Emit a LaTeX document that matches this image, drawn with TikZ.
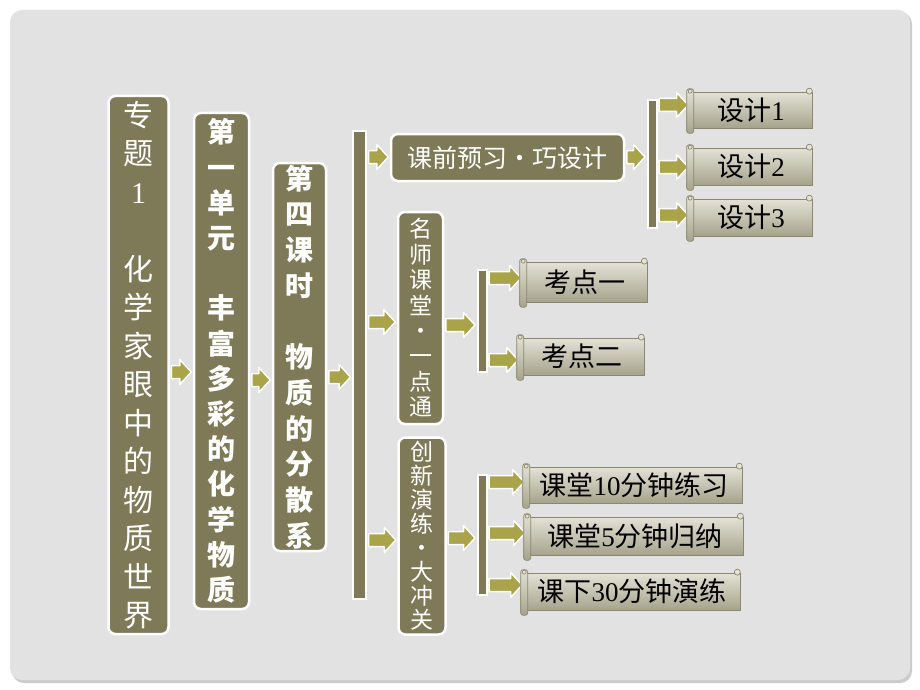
\documentclass[tikz,border=0pt]{standalone}
\usepackage{fontspec}
\setmainfont{Liberation Serif}
\newfontfamily\cjk{Noto Sans CJK SC}
\usetikzlibrary{calc}

\definecolor{bggray}{HTML}{E2E2E2}
\definecolor{bgshadow}{HTML}{CCCCCC}
\definecolor{boxolive}{HTML}{7E7956}
\definecolor{arrowolive}{HTML}{A9A449}
\definecolor{scrolltop}{HTML}{E4E2D6}
\definecolor{scrollmid}{HTML}{D3D1C1}
\definecolor{scrollbot}{HTML}{A6A38C}
\definecolor{scrollline}{HTML}{8A876E}

% digits in the serif face
\newcommand\latn[1]{{\rmfamily #1}}

% block arrow from node #1 to node #2 at height #3
\newcommand\blockarrow[3]{%
  \coordinate (ba-s) at (#1.east |- 0,#3);
  \coordinate (ba-e) at (#2.west |- 0,#3);
  \filldraw[arrowbody] ($(ba-s)+(1.5,6.5)$) -- ($(ba-e)+(-13,6.5)$) -- ($(ba-e)+(-13,12.5)$)
    -- ($(ba-e)+(-1.5,0)$) -- ($(ba-e)+(-13,-12.5)$) -- ($(ba-e)+(-13,-6.5)$) -- ($(ba-s)+(1.5,-6.5)$) -- cycle;}

\begin{document}
\begin{tikzpicture}[x=1pt,y=-1pt,
  olivebox/.style={draw=white, line width=2.5pt, fill=boxolive, rounded corners=7pt, text=white, inner sep=0pt, align=center},
  olivebar/.style={draw=white, line width=2pt, fill=boxolive, inner sep=0pt},
  arrowbody/.style={fill=arrowolive, draw=white, line width=1.5pt, line join=round},
  scroll/.style={draw=scrollline, line width=0.7pt, top color=scrolltop, middle color=scrollmid, bottom color=scrollbot, inner sep=0pt, text=black, font=\cjk\fontsize{27}{30}\selectfont},
  rollline/.style={draw=scrollline, line width=0.7pt}]

\useasboundingbox (0,0) rectangle (920,690);
\fill[white] (0,0) rectangle (920,690);
\fill[bgshadow, rounded corners=12pt] (12,12) rectangle (912,683);
\fill[bggray, rounded corners=12pt] (10,10) rectangle (910,680);

% left column
\node[olivebox, minimum width=60pt, minimum height=538pt, font=\cjk\fontsize{30}{38.5}\selectfont] (topic) at (138.5,365)
  {专\\题\\\latn{1}\\[38.5pt]化\\学\\家\\眼\\中\\的\\物\\质\\世\\界};
\node[olivebox, minimum width=55pt, minimum height=496pt, font=\cjk\bfseries\fontsize{28}{35.2}\selectfont] (unit) at (221.5,361)
  {第\\一\\单\\元\\[35.2pt]丰\\富\\多\\彩\\的\\化\\学\\物\\质};
\node[olivebox, minimum width=53pt, minimum height=388pt, font=\cjk\bfseries\fontsize{28}{35.7}\selectfont] (lesson) at (299.5,357)
  {第\\四\\课\\时\\[35.7pt]物\\质\\的\\分\\散\\系};

% bars
\node[olivebar, minimum width=13pt, minimum height=468pt] (bar1) at (359.5,365) {};
\node[olivebar, minimum width=9pt, minimum height=128pt] (bar2) at (652,164) {};
\node[olivebar, minimum width=9pt, minimum height=102pt] (bar3) at (482,321) {};
\node[olivebar, minimum width=9pt, minimum height=120pt] (bar4) at (482,535) {};

% middle column
\node[olivebox, minimum width=233pt, minimum height=47pt, font=\cjk\fontsize{25}{28}\selectfont] (prep) at (507.5,157.5) {课前预习・巧设计};
\node[olivebox, minimum width=45pt, minimum height=212pt, font=\cjk\fontsize{23}{25.4}\selectfont] (mingshi) at (420.5,318)
  {名\\师\\课\\堂\\・\\一\\点\\通};
\node[olivebox, minimum width=47pt, minimum height=197pt, font=\cjk\fontsize{23}{24}\selectfont] (chuangxin) at (422,536)
  {创\\新\\演\\练\\・\\大\\冲\\关};

% scrolls
\node[scroll, minimum width=122pt, minimum height=36pt] (sj1) at (751,110) {设计\latn{1}};
\node[scroll, minimum width=122pt, minimum height=37pt] (sj2) at (751,166.5) {设计\latn{2}};
\node[scroll, minimum width=122pt, minimum height=37pt] (sj3) at (751,217.5) {设计\latn{3}};
\node[scroll, minimum width=124pt, minimum height=40pt] (kd1) at (585,282) {考点一};
\node[scroll, minimum width=124pt, minimum height=37pt] (kd2) at (582,356.5) {考点二};
\node[scroll, minimum width=216pt, minimum height=36pt] (lx1) at (634,485) {课堂\latn{10}分钟练习};
\node[scroll, minimum width=216pt, minimum height=38pt] (lx2) at (635,536) {课堂\latn{5}分钟归纳};
\node[scroll, minimum width=216pt, minimum height=37pt] (lx3) at (632,591.5) {课下\latn{30}分钟演练};

% arrows
\foreach \a/\b/\y in {topic/unit/372, unit/lesson/380, lesson/bar1/377,
    bar1/prep/157, bar1/mingshi/322, bar1/chuangxin/540,
    prep/bar2/157, bar2/sj1/105, bar2/sj2/167, bar2/sj3/215,
    mingshi/bar3/325, bar3/kd1/278, bar3/kd2/360,
    chuangxin/bar4/538, bar4/lx1/482, bar4/lx2/533, bar4/lx3/585}
  \blockarrow{\a}{\b}{\y};

% rolled ends of the scrolls
\foreach \s in {sj1,sj2,sj3,kd1,kd2,lx1,lx2,lx3}{
  \draw[rollline, top color=scrolltop, bottom color=scrollbot, rounded corners=2.5pt]
    ([xshift=-3pt,yshift=3pt]\s.north west) rectangle ([xshift=4pt,yshift=-5pt]\s.south west);
  \draw[rollline, fill=scrolltop] ([xshift=0.5pt,yshift=0.5pt]\s.north west) circle[radius=2pt];
  \draw[rollline, fill=scrolltop] ([xshift=-3pt,yshift=0.5pt]\s.north east) circle[radius=3pt];
}
\end{tikzpicture}
\end{document}
